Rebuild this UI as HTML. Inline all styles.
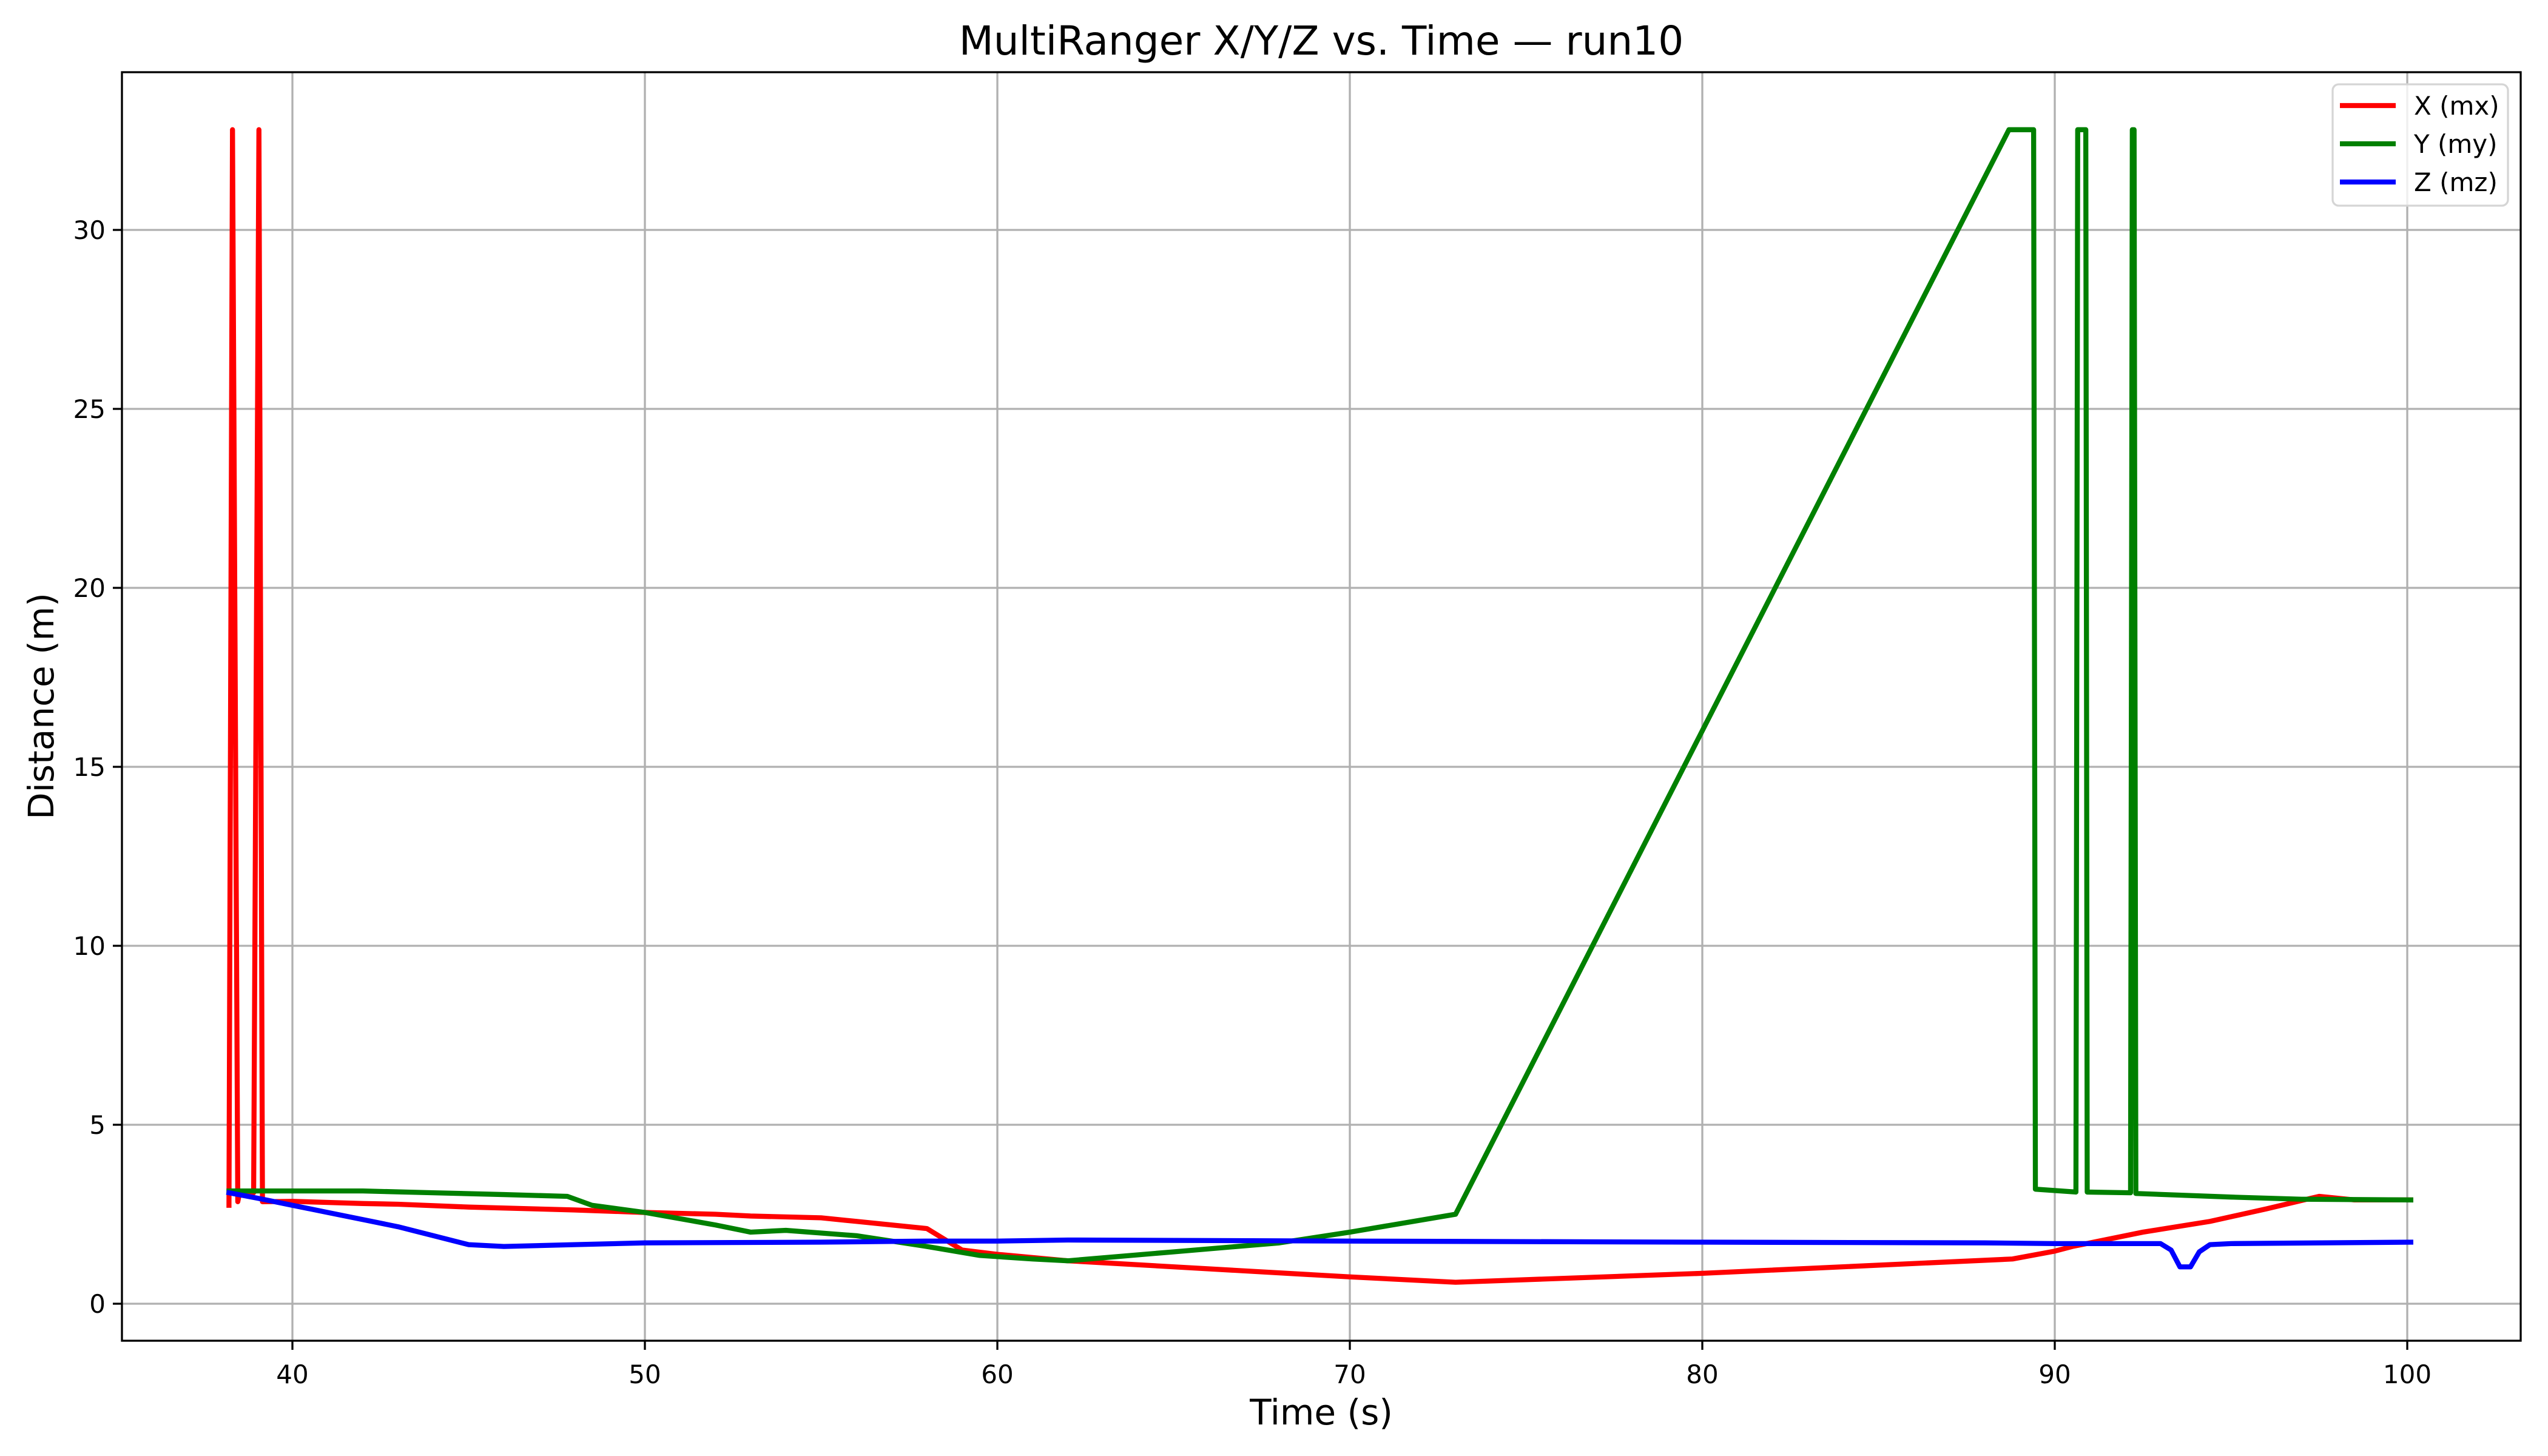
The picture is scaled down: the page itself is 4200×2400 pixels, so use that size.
<!DOCTYPE html>
<html><head><meta charset="utf-8"><style>
html,body{margin:0;padding:0;background:#fff;}
svg{display:block;font-family:"DejaVu Sans","Liberation Sans",sans-serif;}
</style></head><body>
<svg id="chart" width="4200" height="2400" viewBox="0 0 4200 2400">
<rect width="4200" height="2400" fill="#fff"/>
<g id="grid"></g>
<g id="series" clip-path="url(#clip)"></g>
<defs><clipPath id="clip"><rect x="201" y="119" width="3954" height="2091"/></clipPath></defs>
<rect x="201" y="119" width="3954" height="2091" fill="none" stroke="#000" stroke-width="3.3"/>
<g id="ticks"></g>
<text x="2178" y="90" font-size="66" text-anchor="middle">MultiRanger X/Y/Z vs. Time — run10</text>
<text x="2178" y="2348" font-size="58" text-anchor="middle">Time (s)</text>
<text x="88" y="1164" font-size="58" text-anchor="middle" transform="rotate(-90 88 1164)">Distance (m)</text>
<g>
<rect x="3845" y="139" width="289" height="200" rx="10" fill="#fff" fill-opacity="0.8" stroke="#d5d5d5" stroke-width="3.3"/>
<g><line x1="3857" y1="174" x2="3949" y2="174" stroke="#ff0000" stroke-width="8.3"/><text x="3979" y="189" font-size="42">X (mx)</text></g>
<g><line x1="3857" y1="237" x2="3949" y2="237" stroke="#008000" stroke-width="8.3"/><text x="3979" y="252" font-size="42">Y (my)</text></g>
<g><line x1="3857" y1="300" x2="3949" y2="300" stroke="#0000ff" stroke-width="8.3"/><text x="3979" y="315" font-size="42">Z (mz)</text></g>
</g>
</svg>
<script>
const xTicks = [40, 50, 60, 70, 80, 90, 100];
const yTicks = [0, 5, 10, 15, 20, 25, 30];
const xT = [38.2,38.3,38.45,38.5,38.9,39.05,39.15,40,42,43,45,48,50,52,53,55,56,58,59,60,62,70,73,80,88.8,90,90.5,92.5,94.4,96,97.5,98.5,100.1];
const xV = [2.75,32.8,2.85,3.1,3.1,32.8,2.85,2.86,2.8,2.78,2.7,2.62,2.55,2.5,2.45,2.4,2.3,2.1,1.5,1.38,1.2,0.75,0.6,0.85,1.25,1.47,1.6,2.0,2.3,2.65,3.0,2.9,2.9];
const yT = [38.2,40,42,44,46,47.8,48.5,50,52,53,54,56,58,59.5,61,62,65,68,70,73,88.7,89.4,89.45,90.6,90.65,90.88,90.92,92.15,92.2,92.25,92.3,95,97,100.1];
const yV = [3.15,3.15,3.15,3.1,3.05,3.0,2.75,2.55,2.2,2.0,2.05,1.9,1.6,1.35,1.25,1.2,1.45,1.7,2.0,2.5,32.8,32.8,3.2,3.12,32.8,32.8,3.12,3.1,32.8,32.8,3.08,2.98,2.92,2.9];
const zT = [38.2,39,40,41,42,43,44,45,46,48,50,55,58,60,62,70,80,88,90,93,93.3,93.55,93.85,94.1,94.4,95,100.1];
const zV = [3.1,2.95,2.75,2.55,2.35,2.15,1.9,1.65,1.6,1.65,1.7,1.72,1.75,1.75,1.78,1.75,1.72,1.7,1.68,1.68,1.5,1.03,1.03,1.45,1.65,1.68,1.72];
const NS='http://www.w3.org/2000/svg';
function sx(t){return 482+(t-40)*58.1;}
function sy(v){return 2149-v*59.0;}
const grid=document.getElementById('grid'), ticks=document.getElementById('ticks'), series=document.getElementById('series');
function mk(tag,attrs,parent){const e=document.createElementNS(NS,tag);for(const k in attrs)e.setAttribute(k,attrs[k]);parent.appendChild(e);return e;}
xTicks.forEach(t=>{
  const g=mk('line',{x1:sx(t),x2:sx(t),y1:119,y2:2210,stroke:'#b0b0b0','stroke-width':3.3},grid);
  
  
  const tk=mk('line',{x1:sx(t),x2:sx(t),y1:2210,y2:2225,stroke:'#000','stroke-width':3.3},ticks);
  
  
  const tx=mk('text',{x:sx(t),y:2280,'font-size':42,'text-anchor':'middle'},ticks);
  tx.textContent=t;
  
  
});
yTicks.forEach(v=>{
  const g=mk('line',{x1:201,x2:4155,y1:sy(v),y2:sy(v),stroke:'#b0b0b0','stroke-width':3.3},grid);
  
  
  const tk=mk('line',{x1:186,x2:201,y1:sy(v),y2:sy(v),stroke:'#000','stroke-width':3.3},ticks);
  
  
  const tx=mk('text',{x:174,y:sy(v)+15,'font-size':42,'text-anchor':'end'},ticks);
  tx.textContent=v;
  
  
});
function drawLine(T,V,color,name){
  const p=mk('polyline',{points:T.map((t,i)=>sx(t)+','+sy(V[i])).join(' '),fill:'none',stroke:color,'stroke-width':8.3,'stroke-linejoin':'round','stroke-linecap':'square'},series);
  
  
}
drawLine(xT,xV,'#ff0000','series-x-mx');
drawLine(yT,yV,'#008000','series-y-my');
drawLine(zT,zV,'#0000ff','series-z-mz');
</script>
</body></html>
